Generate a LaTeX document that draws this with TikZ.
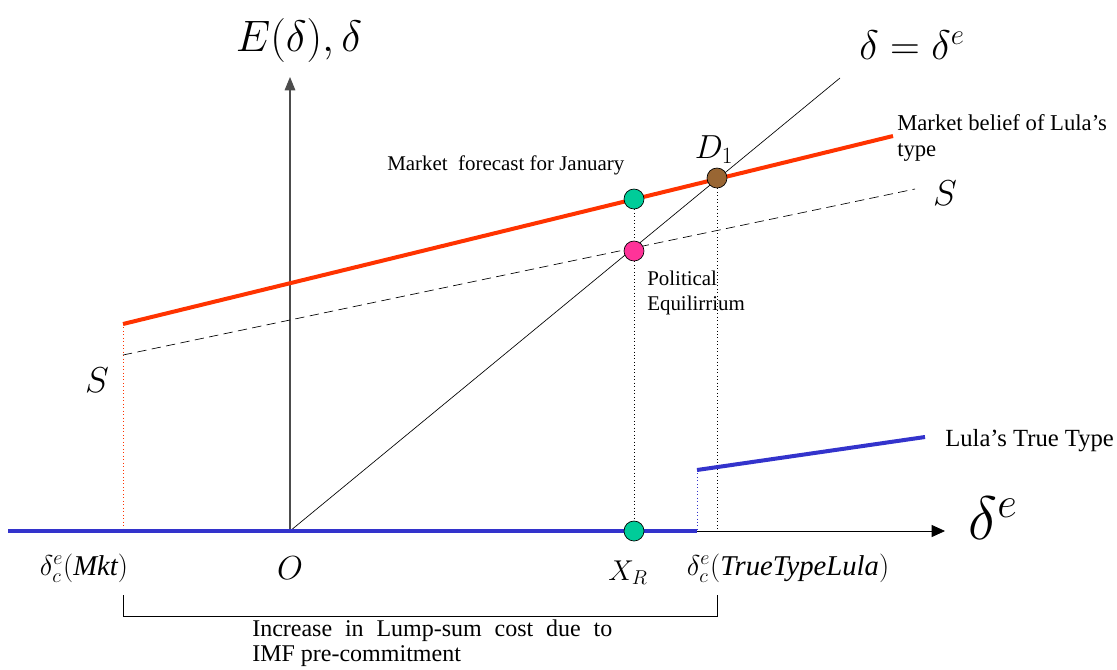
\RequirePackage{fix-cm}
\documentclass[tikz,border=0pt]{standalone}
\usepackage{fontspec}
\setmainfont{Liberation Serif}
\usetikzlibrary{arrows.meta}
\begin{document}
\begin{tikzpicture}[x=0.75pt,y=-0.75pt,
    note/.style={anchor=west,inner sep=0pt,align=left,
      font=\fontsize{17}{19}\selectfont},
    dot/.style={circle,draw=black,line width=0.5pt,minimum size=15pt,inner sep=0pt},
    bigmath/.style={inner sep=0pt,font=\fontsize{25}{28}\selectfont},
    axislabel/.style={inner sep=0pt,font=\fontsize{21.5}{24}\selectfont},
    drop/.style={dotted,line width=0.6pt}]
  \definecolor{belief}{HTML}{FF3300}
  \definecolor{truetype}{HTML}{3333CC}
  \definecolor{forecast}{HTML}{00CC99}
  \definecolor{politic}{HTML}{FF3399}
  \definecolor{dpoint}{HTML}{996633}
  \path[use as bounding box] (0,0) rectangle (1117,669);
  % points of the diagram
  \coordinate (o) at (290,531);
  \coordinate (xleft) at (8,531);
  \coordinate (xtip) at (945,531);
  \coordinate (ytip) at (290,77);
  \coordinate (diagend) at (840,78);
  \coordinate (mkt) at (123,531);
  \coordinate (xr) at (634,531);
  \coordinate (lulax) at (697,531);
  \coordinate (dx) at (717,531);
  \coordinate (beliefstart) at (123,324);
  \coordinate (beliefend) at (893,136);
  \coordinate (sstart) at (123,355);
  \coordinate (send) at (915,189);
  \coordinate (truestart) at (697,470);
  \coordinate (trueend) at (925,437);
  \coordinate (fc) at (634,199);
  \coordinate (pe) at (634,251);
  \coordinate (d1) at (717,178);
  \coordinate (bl) at (123,595);
  \coordinate (blc) at (123,616);
  \coordinate (brc) at (717,616);
  \coordinate (br) at (717,595);
  % axes
  \draw[line width=0.6pt,-{Triangle[length=10pt,width=9pt]}] (xleft) -- (xtip);
  \draw[gray!60!black,line width=0.8pt,-{Triangle[length=10pt,width=8pt]}] (o) -- (ytip);
  \draw[line width=0.5pt] (o) -- (diagend);
  % drop lines
  \draw[drop,belief] (beliefstart) -- (mkt);
  \draw[drop] (fc) -- (xr);
  \draw[drop] (d1) -- (dx);
  \draw[drop,truetype] (truestart) -- (lulax);
  % schedules
  \draw[dashed,line width=0.5pt,dash pattern=on 7pt off 4pt] (sstart) -- (send);
  \draw[belief,line width=3pt] (beliefstart) -- (beliefend);
  \draw[truetype,line width=3pt] (xleft) -- (lulax);
  \draw[truetype,line width=3pt] (truestart) -- (trueend);
  % bracket
  \draw[line width=0.6pt] (bl) -- (blc) -- (brc) -- (br);
  % dots
  \node[dot,fill=forecast] (fcdot) at (fc) {};
  \node[dot,fill=politic] (pedot) at (pe) {};
  \node[dot,fill=dpoint] (d1dot) at (d1) {};
  \node[dot,fill=forecast] (xrdot) at (xr) {};
  % labels
  \node[bigmath,font=\fontsize{33}{38}\selectfont] (ylabel) at (299,40) {$E(\delta),\delta$};
  \node[bigmath,font=\fontsize{31}{36}\selectfont] (diaglabel) at (912,45) {$\delta=\delta^e$};
  \node[bigmath,font=\fontsize{46}{52}\selectfont] (xlabel) at (993,518) {$\delta^e$};
  \node[bigmath] (d1label) at (714,150) {$D_1$};
  \node[bigmath,font=\fontsize{27}{30}\selectfont] (srlabel) at (945,193) {$S$};
  \node[bigmath,font=\fontsize{27}{30}\selectfont] (sllabel) at (97,380) {$S$};
  \node[bigmath] (olabel) at (290,568) {$O$};
  \node[axislabel] (mktlabel) at (84,568) {$\delta_c^e(\textit{Mkt})$};
  \node[axislabel] (xrlabel) at (628,573) {$X_R$};
  \node[axislabel] (lulalabel) at (788,568) {$\delta_c^e(\textit{TrueTypeLula})$};
  \node[note] (beliefnote) at (897,138) {Market belief of Lula's\\type};
  \node[note,font=\fontsize{15.7}{19}\selectfont] (forecastnote) at (387,165)
    {Market\ \ forecast for January};
  \node[note,font=\fontsize{15.7}{19}\selectfont] (penote) at (647,293)
    {Political\\Equilirrium};
  \node[note,font=\fontsize{18.5}{19}\selectfont] (truenote) at (945,441) {Lula's True Type};
  \node[note,text width=270pt,align=justify,font=\fontsize{18}{19}\selectfont] (costnote)
    at (252,643) {Increase in Lump-sum cost due to\linebreak IMF pre-commitment};
\end{tikzpicture}
\end{document}
